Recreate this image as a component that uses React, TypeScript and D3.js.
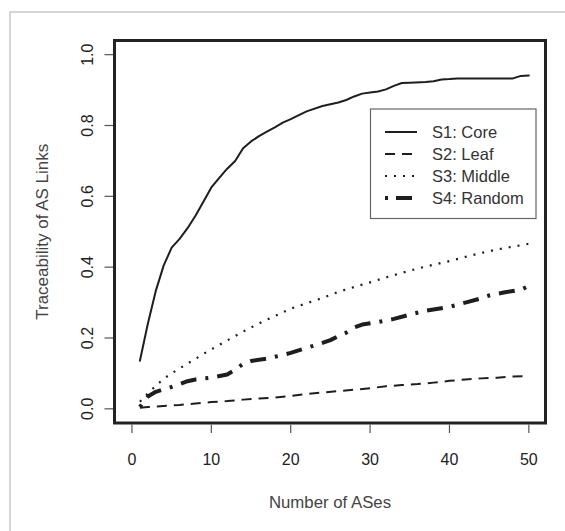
import React, { useEffect, useRef } from 'react';
import * as d3 from 'd3';

// S1: Core
const s1X = [1, 2, 3, 4, 5, 6, 7, 8, 9, 10, 11, 12, 13, 14, 15, 16, 17, 18, 19, 20, 22, 24, 26, 27, 28, 29, 30, 31, 32, 33, 34, 35, 37, 38, 39, 40, 41, 45, 48, 49, 50];
const s1Y = [0.136, 0.24, 0.333, 0.405, 0.455, 0.48, 0.51, 0.545, 0.585, 0.625, 0.652, 0.678, 0.7, 0.736, 0.755, 0.77, 0.783, 0.795, 0.808, 0.818, 0.84, 0.855, 0.865, 0.872, 0.882, 0.89, 0.893, 0.896, 0.902, 0.912, 0.92, 0.921, 0.923, 0.925, 0.93, 0.931, 0.933, 0.933, 0.933, 0.94, 0.941];

// S2: Leaf
const s2X = [1, 2, 4, 6, 8, 10, 12, 14, 16, 18, 20, 22, 24, 26, 28, 30, 32, 34, 36, 38, 40, 42, 44, 46, 48, 50];
const s2Y = [0.003, 0.005, 0.008, 0.011, 0.015, 0.019, 0.022, 0.026, 0.029, 0.032, 0.036, 0.042, 0.046, 0.05, 0.054, 0.058, 0.064, 0.067, 0.07, 0.074, 0.079, 0.083, 0.086, 0.088, 0.091, 0.093];

// S3: Middle
const s3X = [1, 2, 3, 4, 5, 6, 7, 8, 9, 10, 12, 14, 16, 18, 20, 22, 24, 26, 28, 30, 32, 34, 36, 38, 40, 42, 44, 46, 48, 50];
const s3Y = [0.02, 0.043, 0.065, 0.085, 0.1, 0.114, 0.128, 0.141, 0.155, 0.168, 0.193, 0.218, 0.241, 0.262, 0.283, 0.298, 0.313, 0.33, 0.344, 0.357, 0.371, 0.384, 0.396, 0.407, 0.417, 0.429, 0.44, 0.45, 0.458, 0.466];

// S4: Random
const s4X = [1, 2, 3, 4, 5, 6, 7, 8, 10, 12, 13, 14, 15, 17, 19, 20, 21, 22, 24, 25, 26, 27, 28, 29, 31, 33, 35, 37, 40, 42, 44, 45, 47, 49, 50];
const s4Y = [0.005, 0.035, 0.048, 0.055, 0.062, 0.07, 0.078, 0.083, 0.088, 0.097, 0.11, 0.127, 0.135, 0.142, 0.152, 0.158, 0.165, 0.172, 0.186, 0.194, 0.205, 0.215, 0.23, 0.238, 0.245, 0.254, 0.266, 0.277, 0.288, 0.3, 0.312, 0.32, 0.329, 0.336, 0.347];

const seriesNames = ['S1: Core', 'S2: Leaf', 'S3: Middle', 'S4: Random'];
const xTicks = [0, 10, 20, 30, 40, 50];
const yTicks = [0, 0.2, 0.4, 0.6, 0.8, 1.0];

const W = 565;
const H = 531;
const FONT = '"Liberation Sans", Arial, sans-serif';

export default function App() {
  const svgRef = useRef<SVGSVGElement>(null);

  useEffect(() => {
    const svg = d3.select(svgRef.current);
    svg.selectAll('*').remove();

    const box = { left: 114.5, right: 545.5, top: 40.5, bottom: 423 };

    const x = d3.scaleLinear().domain([-2.2, 52.1]).range([box.left, box.right]);
    const y = d3.scaleLinear().domain([-0.04, 1.04]).range([box.bottom, box.top]);

    // outer grey frame
    svg.append('rect')
      .attr('x', 10).attr('y', 12)
      .attr('width', W + 20).attr('height', H + 20)
      .attr('fill', 'white')
      .attr('stroke', '#c8c8c8')
      .attr('stroke-width', 1.5);

    const styles = [
      { dash: null, width: 2 },
      { dash: '10,7', width: 2 },
      { dash: '2,7', width: 2.2 },
      { dash: '3,9,16,9', width: 4 },
    ];

    const data = [
      s1X.map((v, i) => [v, s1Y[i]]),
      s2X.map((v, i) => [v, s2Y[i]]),
      s3X.map((v, i) => [v, s3Y[i]]),
      s4X.map((v, i) => [v, s4Y[i]]),
    ];

    const line = d3.line<number[]>()
      .x(d => x(d[0]))
      .y(d => y(d[1]));

    data.forEach((pts, i) => {
      svg.append('path')
        .attr('d', line(pts))
        .attr('fill', 'none')
        .attr('stroke', '#1e1e1e')
        .attr('stroke-width', styles[i].width)
        .attr('stroke-dasharray', styles[i].dash)
        .attr('stroke-linejoin', 'round')
        .attr('stroke-linecap', i === 0 ? 'round' : 'butt');
    });

    // plot box
    svg.append('rect')
      .attr('x', box.left).attr('y', box.top)
      .attr('width', box.right - box.left)
      .attr('height', box.bottom - box.top)
      .attr('fill', 'none')
      .attr('stroke', '#222')
      .attr('stroke-width', 3);

    // x axis ticks
    const xg = svg.append('g');
    xTicks.forEach(t => {
      xg.append('line')
        .attr('x1', x(t)).attr('x2', x(t))
        .attr('y1', box.bottom + 1.5).attr('y2', box.bottom + 10)
        .attr('stroke', '#555').attr('stroke-width', 1.2);
      xg.append('text')
        .attr('x', x(t)).attr('y', 465)
        .attr('text-anchor', 'middle')
        .style('font-family', FONT)
        .style('font-size', '16px')
        .attr('fill', '#222')
        .text(t);
    });

    // y axis ticks
    const yg = svg.append('g');
    yTicks.forEach(t => {
      yg.append('line')
        .attr('x1', box.left - 10).attr('x2', box.left - 1.5)
        .attr('y1', y(t)).attr('y2', y(t))
        .attr('stroke', '#555').attr('stroke-width', 1.2);
      yg.append('text')
        .attr('transform', `translate(93, ${y(t)}) rotate(-90)`)
        .attr('text-anchor', 'middle')
        .style('font-family', FONT)
        .style('font-size', '16px')
        .attr('fill', '#222')
        .text(t.toFixed(1));
    });

    // axis titles
    svg.append('text')
      .attr('x', (box.left + box.right) / 2)
      .attr('y', 508)
      .attr('text-anchor', 'middle')
      .style('font-family', FONT)
      .style('font-size', '16.8px')
      .attr('fill', '#444')
      .text('Number of ASes');

    svg.append('text')
      .attr('transform', `translate(48, ${(box.top + box.bottom) / 2}) rotate(-90)`)
      .attr('text-anchor', 'middle')
      .style('font-family', FONT)
      .style('font-size', '17px')
      .attr('fill', '#444')
      .text('Traceability of AS Links');

    // legend
    const lg = svg.append('g');
    lg.append('rect')
      .attr('x', 370.5).attr('y', 109)
      .attr('width', 165.5).attr('height', 109.5)
      .attr('fill', 'white')
      .attr('stroke', '#666')
      .attr('stroke-width', 1.2);

    seriesNames.forEach((name, i) => {
      const ly = 132 + i * 22;
      lg.append('line')
        .attr('x1', 385).attr('x2', 417)
        .attr('y1', ly).attr('y2', ly)
        .attr('stroke', '#1e1e1e')
        .attr('stroke-width', styles[i].width)
        .attr('stroke-dasharray', i === 3 ? '3,8,16,9' : styles[i].dash);
      lg.append('text')
        .attr('x', 432).attr('y', ly + 6)
        .style('font-family', FONT)
        .style('font-size', '16.5px')
        .attr('fill', '#333')
        .text(name);
    });
  }, []);

  return (
    <svg
      ref={svgRef}
      width={W}
      height={H}
      style={{ position: 'absolute', left: 0, top: 0, background: 'white' }}
    />
  );
}
